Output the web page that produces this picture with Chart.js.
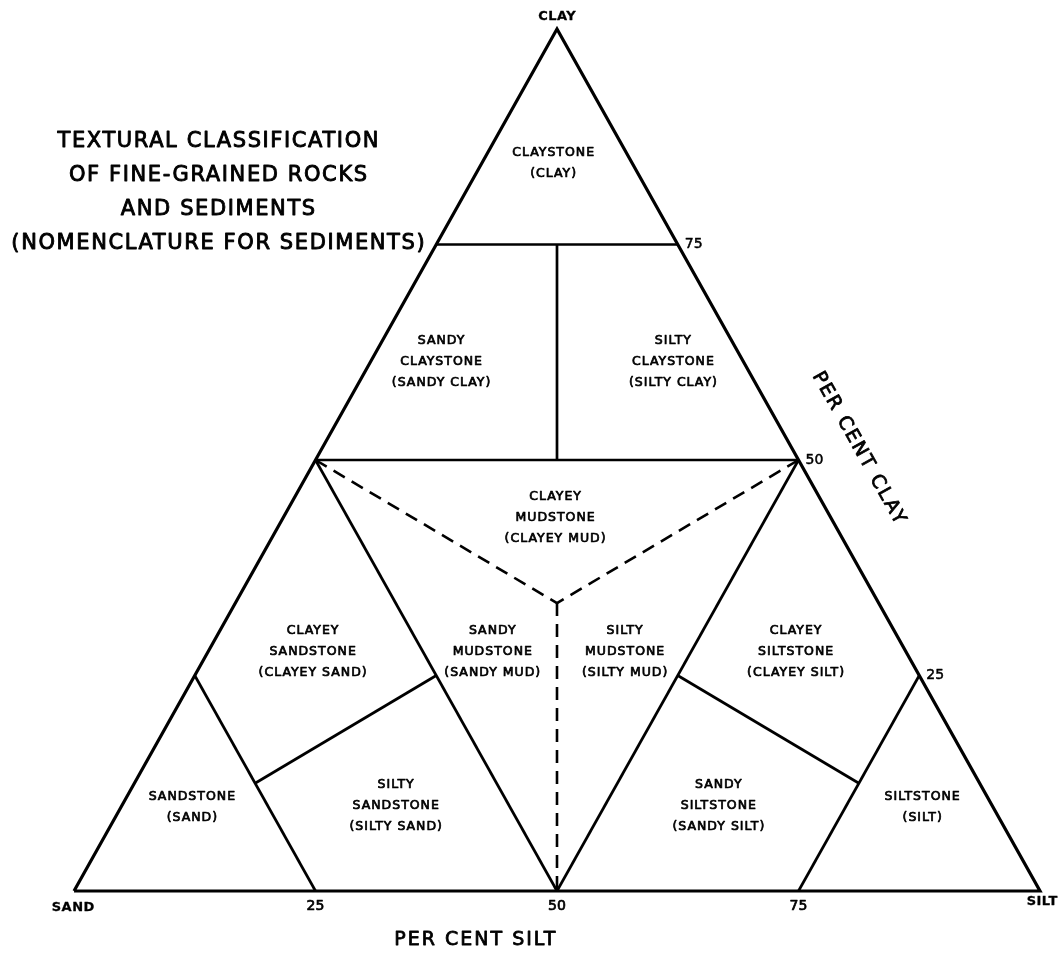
<!DOCTYPE html>
<html><head><meta charset="utf-8">
<script src="https://cdn.jsdelivr.net/npm/chart.js@4.4.0/dist/chart.umd.min.js"></script>
<style>html,body{margin:0;padding:0;background:#fff;}canvas{display:block;}</style>
</head><body>
<canvas id="c" width="1063" height="958"></canvas>
<script>
// ---- Data: compositions as [sand, silt, clay] per cent ----
const outerTriangle = [[100,0,0],[0,100,0],[0,0,100],[100,0,0]];
const clay75Line = [[25,0,75],[0,25,75]];
const clay50Line = [[50,0,50],[0,50,50]];
const claystoneDivider = [[12.5,12.5,75],[25,25,50]];
const sand50Line = [[50,0,50],[50,50,0]];
const silt50Line = [[0,50,50],[50,50,0]];
const sand75Line = [[75,0,25],[75,25,0]];
const silt75Line = [[0,75,25],[25,75,0]];
const sandstoneDivider = [[75,12.5,12.5],[50,25,25]];
const siltstoneDivider = [[12.5,75,12.5],[25,50,25]];
const mudDividerSandClay = [[50,0,50],[33.3,33.3,33.4]];
const mudDividerSiltClay = [[0,50,50],[33.3,33.3,33.4]];
const mudDividerSandSilt = [[33.3,33.3,33.4],[50,50,0]];

const siltTicks = [25, 50, 75];
const clayTicks = [75, 50, 25];
const vertexNames = ['SAND', 'SILT', 'CLAY'];
const regionNames = [
  ['CLAYSTONE','(CLAY)'],
  ['SANDY','CLAYSTONE','(SANDY CLAY)'],
  ['SILTY','CLAYSTONE','(SILTY CLAY)'],
  ['CLAYEY','MUDSTONE','(CLAYEY MUD)'],
  ['CLAYEY','SANDSTONE','(CLAYEY SAND)'],
  ['SANDY','MUDSTONE','(SANDY MUD)'],
  ['SILTY','MUDSTONE','(SILTY MUD)'],
  ['CLAYEY','SILTSTONE','(CLAYEY SILT)'],
  ['SANDSTONE','(SAND)'],
  ['SILTY','SANDSTONE','(SILTY SAND)'],
  ['SANDY','SILTSTONE','(SANDY SILT)'],
  ['SILTSTONE','(SILT)']
];
const titleLines = ['TEXTURAL CLASSIFICATION','OF FINE-GRAINED ROCKS','AND SEDIMENTS','(NOMENCLATURE FOR SEDIMENTS)'];
const siltAxisTitle = 'PER CENT SILT';
const clayAxisTitle = 'PER CENT CLAY';

// ---- Layout (label anchor positions in plot units: x = silt + clay/2, y = clay) ----
const regionLayout = [
  [49.6,84.4],[38.0,61.4],[62.0,61.4],[49.8,43.3],
  [24.7,27.8],[43.3,27.8],[57.0,27.8],[74.7,27.8],
  [12.2,9.7],[33.3,9.9],[66.7,9.9],[87.8,9.7]
];

const toXY = p => ({x: p[1] + p[2] / 2, y: p[2]});

const solid = [clay75Line, clay50Line, claystoneDivider, sand50Line, silt50Line,
  sand75Line, silt75Line, sandstoneDivider, siltstoneDivider];
const dashed = [mudDividerSandClay, mudDividerSiltClay, mudDividerSandSilt];

const datasets = [];
datasets.push({data: outerTriangle.map(toXY), showLine: true, borderColor: '#000',
  borderWidth: 3.2, pointRadius: 0, clip: false, borderJoinStyle: 'miter'});
solid.forEach(s => datasets.push({data: s.map(toXY), showLine: true, borderColor: '#000',
  borderWidth: 2.7, pointRadius: 0, clip: false}));
dashed.forEach(s => datasets.push({data: s.map(toXY), showLine: true, borderColor: '#000',
  borderWidth: 2.6, borderDash: [13, 8], pointRadius: 0, clip: false}));

const FONT = '"DejaVu Sans", sans-serif';

const textPlugin = {
  id: 'ternaryText',
  afterDatasetsDraw(chart) {
    const ctx = chart.ctx, xs = chart.scales.x, ys = chart.scales.y;
    const px = v => xs.getPixelForValue(v), py = v => ys.getPixelForValue(v);
    ctx.save();
    ctx.fillStyle = '#000';
    ctx.strokeStyle = '#000';
    ctx.lineJoin = 'round';
    ctx.textBaseline = 'middle';
    function txt(s, x, y, font, ls, align, weight) {
      ctx.font = font;
      ctx.letterSpacing = ls + 'px';
      ctx.textAlign = align || 'center';
      const dx = (align === 'left' || align === 'right') ? 0 : ls / 2;
      ctx.fillText(s, x + dx, y);
      if (weight) { ctx.lineWidth = weight; ctx.strokeText(s, x + dx, y); }
    }
    // Title
    titleLines.forEach((s, i) => txt(s, 218, 142 + i * 33.7, '21px ' + FONT, 1.6, 'center', 0.9));
    // Region labels
    regionNames.forEach((lines, i) => {
      const cx = px(regionLayout[i][0]), cy = py(regionLayout[i][1]);
      const h = 21, y0 = cy - (lines.length - 1) * h / 2;
      lines.forEach((s, j) => txt(s, cx, y0 + j * h, '12.5px ' + FONT, 1, 'center', 0.7));
    });
    // Vertex labels
    txt(vertexNames[0], px(0) - 1, py(0) + 17, 'bold 13px ' + FONT, 0.5, 'center', 0.3);
    txt(vertexNames[1], px(100) + 2, py(0) + 11, 'bold 13px ' + FONT, 0.5, 'center', 0.3);
    txt(vertexNames[2], px(50), py(100) - 12, 'bold 13px ' + FONT, 0.5, 'center', 0.3);
    // Silt ticks
    siltTicks.forEach(v => txt(String(v), px(v), py(0) + 15, '14px ' + FONT, 0, 'center', 0.7));
    // Clay ticks on right edge
    clayTicks.forEach(v => txt(String(v), px(100 - v / 2) + 7, py(v), '14px ' + FONT, 0, 'left', 0.5));
    // Axis titles
    txt(siltAxisTitle, px(41.5), py(0) + 49, '19px ' + FONT, 2, 'center', 0.8);
    const ang = Math.atan2(py(0) - py(100), px(100) - px(50));
    ctx.save();
    ctx.translate(px(81.2), py(51.4));
    ctx.rotate(ang);
    txt(clayAxisTitle, 0, 0, '19px ' + FONT, 2, 'center', 0.8);
    ctx.restore();
    ctx.restore();
  }
};

new Chart(document.getElementById('c'), {
  type: 'scatter',
  data: {datasets},
  options: {
    responsive: false,
    animation: false,
    events: [],
    layout: {padding: {left: 74, right: 23, top: 29, bottom: 67}},
    plugins: {legend: {display: false}, tooltip: {enabled: false}, title: {display: false}},
    scales: {
      x: {type: 'linear', min: 0, max: 100, display: false},
      y: {type: 'linear', min: 0, max: 100, display: false}
    }
  },
  plugins: [textPlugin]
});
</script>
</body></html>
